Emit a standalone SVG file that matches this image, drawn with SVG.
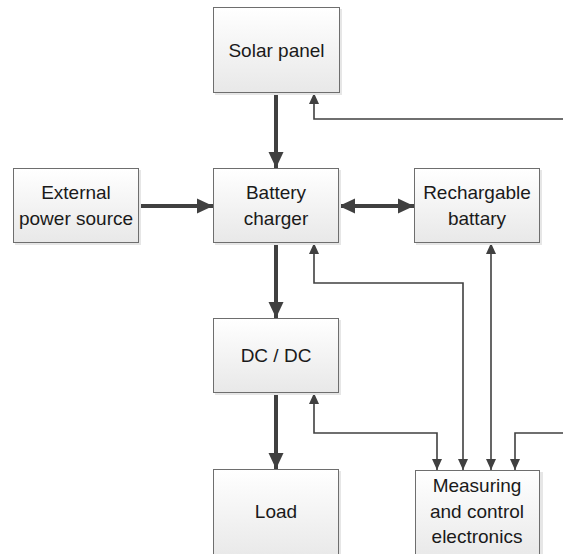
<svg xmlns="http://www.w3.org/2000/svg" width="563" height="554" viewBox="0 0 563 554">
<defs>
<linearGradient id="g" x1="0" y1="0" x2="0" y2="1">
<stop offset="0" stop-color="#ffffff"/>
<stop offset="1" stop-color="#e8e8e8"/>
</linearGradient>
<marker id="ta" markerUnits="userSpaceOnUse" markerWidth="20" markerHeight="20" viewBox="0 0 20 20" refX="16" refY="10" orient="auto-start-reverse">
<path d="M0,2.5 L16,10 L0,17.5 Z" fill="#404040"/>
</marker>
<marker id="na" markerUnits="userSpaceOnUse" markerWidth="12" markerHeight="12" viewBox="0 0 12 12" refX="11" refY="6" orient="auto-start-reverse">
<path d="M0,1 L11,6 L0,11 Z" fill="#404040"/>
</marker>
</defs>
<style>
.sh{fill:#e6e6e6}
.bx{fill:url(#g);stroke:#6e6e6e;stroke-width:1}
text{font-family:"Liberation Sans",Arial,sans-serif;font-size:19px;fill:#1a1a1a;text-anchor:middle}
.thick{stroke:#404040;stroke-width:4;fill:none}
.thin{stroke:#404040;stroke-width:1.6;fill:none}
</style>
<g id="connectors">
<line class="thick" x1="276" y1="93" x2="276" y2="168" marker-end="url(#ta)"/>
<line class="thick" x1="138" y1="206" x2="213" y2="206" marker-end="url(#ta)"/>
<line class="thick" x1="339" y1="206" x2="414" y2="206" marker-start="url(#ta)" marker-end="url(#ta)"/>
<line class="thick" x1="276" y1="243" x2="276" y2="318" marker-end="url(#ta)"/>
<line class="thick" x1="276" y1="393" x2="276" y2="469" marker-end="url(#ta)"/>
<polyline class="thin" points="563,119 314,119 314,93" marker-end="url(#na)"/>
<polyline class="thin" points="314,243 314,283 463,283 463,470" marker-start="url(#na)" marker-end="url(#na)"/>
<line class="thin" x1="491" y1="243" x2="491" y2="470" marker-start="url(#na)" marker-end="url(#na)"/>
<polyline class="thin" points="314,393 314,433 437,433 437,470" marker-start="url(#na)" marker-end="url(#na)"/>
<polyline class="thin" points="563,433 515,433 515,470" marker-end="url(#na)"/>
</g>
<g id="solar">
<rect class="sh" x="215" y="9" width="127" height="86"/>
<rect class="bx" x="213.5" y="7.5" width="126" height="85"/>
<text x="276.5" y="57">Solar panel</text>
</g>
<g id="external">
<rect class="sh" x="15" y="170" width="126" height="75"/>
<rect class="bx" x="13.5" y="168.5" width="125" height="74"/>
<text x="76" y="199">External</text>
<text x="76" y="225">power source</text>
</g>
<g id="charger">
<rect class="sh" x="215" y="170" width="126" height="75"/>
<rect class="bx" x="213.5" y="168.5" width="125" height="74"/>
<text x="276" y="199">Battery</text>
<text x="276" y="225">charger</text>
</g>
<g id="battery">
<rect class="sh" x="416" y="170" width="126" height="75"/>
<rect class="bx" x="414.5" y="168.5" width="125" height="74"/>
<text x="477" y="199">Rechargable</text>
<text x="477" y="225">battary</text>
</g>
<g id="dcdc">
<rect class="sh" x="215" y="320" width="126" height="75"/>
<rect class="bx" x="213.5" y="318.5" width="125" height="74"/>
<text x="276" y="362">DC / DC</text>
</g>
<g id="load">
<rect class="sh" x="215" y="471" width="126" height="90"/>
<rect class="bx" x="213.5" y="469.5" width="125" height="90"/>
<text x="276" y="518">Load</text>
</g>
<g id="measuring">
<rect class="sh" x="417" y="472" width="126" height="90"/>
<rect class="bx" x="415.5" y="470.5" width="124" height="90"/>
<text x="477" y="492">Measuring</text>
<text x="477" y="518">and control</text>
<text x="477" y="543">electronics</text>
</g>
</svg>
